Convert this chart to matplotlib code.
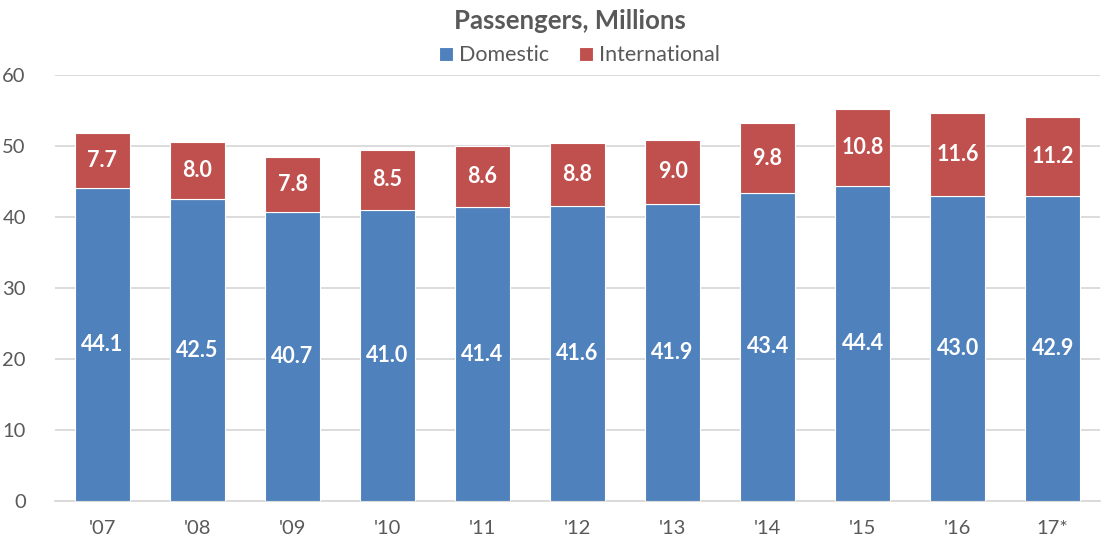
import matplotlib.pyplot as plt
import numpy as np

plt.rcParams['font.family'] = ['Lato', 'DejaVu Sans']

years = ["'07", "'08", "'09", "'10", "'11", "'12", "'13", "'14", "'15", "'16", "17*"]
domestic = [44.1, 42.5, 40.7, 41.0, 41.4, 41.6, 41.9, 43.4, 44.4, 43.0, 42.9]
international = [7.7, 8.0, 7.8, 8.5, 8.6, 8.8, 9.0, 9.8, 10.8, 11.6, 11.2]

blue = '#4F81BD'
red = '#C0504D'
grey = '#595959'

fig = plt.figure(figsize=(11.06, 5.42), dpi=100)
ax = fig.add_axes([0.0497, 0.0756, 0.945, 0.786])

x = np.arange(len(years))
b1 = ax.bar(x, domestic, width=0.58, color=blue, edgecolor='white', linewidth=0.8,
            label='Domestic', zorder=3)
b2 = ax.bar(x, international, width=0.58, bottom=domestic, color=red, edgecolor='white',
            linewidth=0.8, label='International', zorder=3)

for i in range(len(years)):
    ax.text(x[i], domestic[i] / 2, f'{domestic[i]:.1f}', ha='center', va='center',
            color='white', fontsize=15.5, fontweight='bold', zorder=4)
    ax.text(x[i], domestic[i] + international[i] / 2, f'{international[i]:.1f}',
            ha='center', va='center', color='white', fontsize=15.5, fontweight='bold', zorder=4)

ax.set_xlim(-0.5, len(years) - 0.5)
ax.set_ylim(0, 60)
ax.set_yticks(range(0, 61, 10))
ax.set_xticks(x)
ax.set_xticklabels(years)
ax.grid(axis='y', color='#D9D9D9', linewidth=1.3, zorder=0)
for s in ['top', 'right', 'left']:
    ax.spines[s].set_visible(False)
ax.spines['bottom'].set_color('#D9D9D9')
ax.spines['bottom'].set_linewidth(1.3)
ax.tick_params(axis='both', length=0, labelsize=14.5, colors=grey)
ax.tick_params(axis='x', pad=14)
ax.tick_params(axis='y', pad=21)

fig.text(0.515, 0.962, 'Passengers, Millions', ha='center', va='center',
         fontsize=18.5, fontweight='bold', color=grey)
fig.legend(handles=[b1, b2], loc='center', bbox_to_anchor=(0.524, 0.898), ncol=2,
           frameon=False, fontsize=15.5, labelcolor=grey, handlelength=0.62,
           handleheight=0.62, handletextpad=0.3, columnspacing=1.4)

fig.savefig('out.png', dpi=100)
